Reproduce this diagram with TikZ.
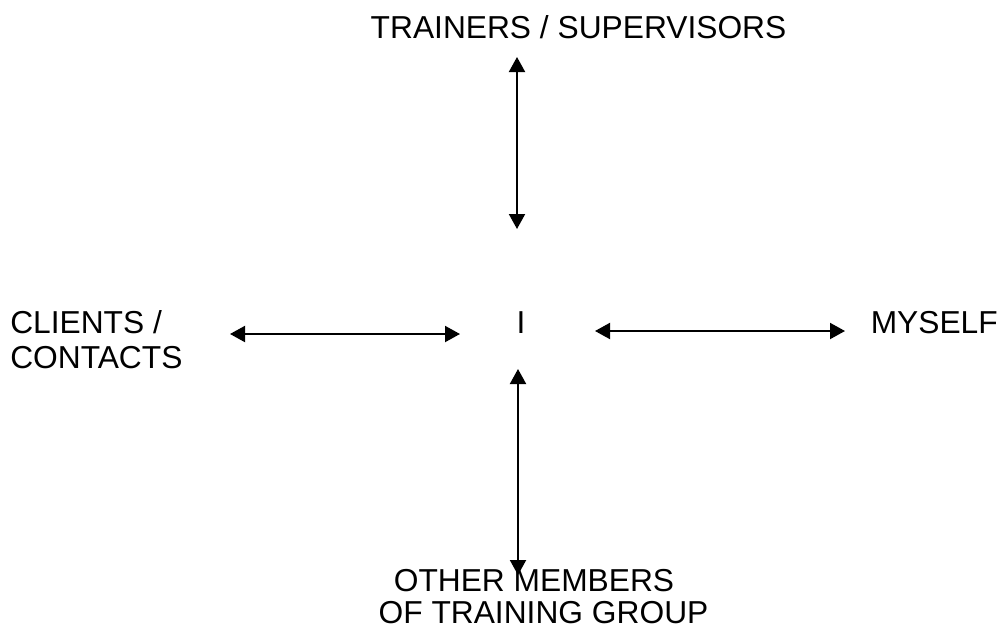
\documentclass[tikz,border=0pt]{standalone}
\usepackage{fontspec}
\setmainfont{Liberation Sans}
\usetikzlibrary{arrows.meta}
\begin{document}
\begin{tikzpicture}[x=0.75pt,y=-0.75pt,
  lbl/.style={inner sep=0pt,anchor=base,font=\fontsize{23.8pt}{24pt}\selectfont},
  arr/.style={line width=1.5pt,{Triangle[length=11.25pt,width=12pt]}-{Triangle[length=11.25pt,width=12pt]}}]
\useasboundingbox (0,0) rectangle (1003,629);
\node[lbl] (top) at (578.5,38) {TRAINERS / SUPERVISORS};
\node[lbl] (I) at (521,333) {I};
\node[lbl,anchor=base east] (myself) at (998,333) {MYSELF};
\node[lbl,anchor=base west] (clients) at (10,333) {CLIENTS /};
\node[lbl,anchor=base west] (contacts) at (10,368) {CONTACTS};
\node[lbl] (other) at (534,591) {OTHER MEMBERS};
\node[lbl,text depth=0pt] (group) at (543.5,623) {OF TRAINING GROUP};
\coordinate (t1) at (517,57);
\coordinate (t2) at (517,229);
\coordinate (l1) at (230,334);
\coordinate (l2) at (460,334);
\coordinate (r1) at (595,331);
\coordinate (r2) at (845,331);
\coordinate (b1) at (518,369);
\coordinate (b2) at (518,575);
\draw[arr] (t1) -- (t2);
\draw[arr] (l1) -- (l2);
\draw[arr] (r1) -- (r2);
\draw[arr] (b1) -- (b2);
\end{tikzpicture}
\end{document}
